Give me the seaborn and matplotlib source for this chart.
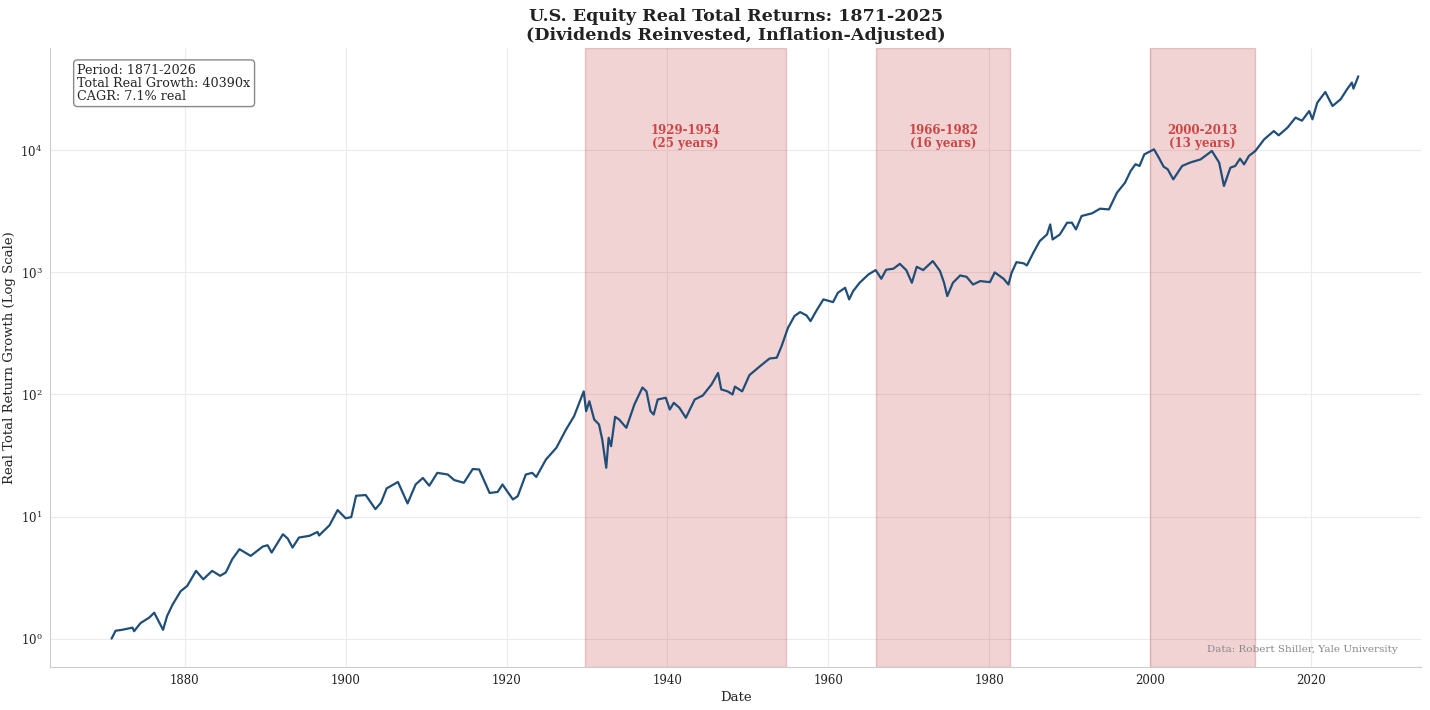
import numpy as np
import pandas as pd
import matplotlib
matplotlib.use("Agg")
import matplotlib.pyplot as plt
import seaborn as sns

# values (growth of $1, real, log scale)
years = [
    1870.9, 1871.4, 1872.2, 1873.5, 1873.7, 1874.5, 1875.6, 1876.2, 1877.3, 1877.8,
    1878.5, 1879.5, 1880.3, 1881.4, 1882.3, 1883.4, 1884.4, 1885.1, 1885.9, 1886.8,
    1888.2, 1889.7, 1890.3, 1890.8, 1892.2, 1892.8, 1893.4, 1894.2, 1895.5, 1896.5,
    1896.7, 1898.0, 1899.0, 1900.0, 1900.7, 1901.3, 1902.5, 1903.7, 1904.4, 1905.1,
    1906.5, 1907.7, 1908.7, 1909.6, 1910.4, 1911.4, 1912.7, 1913.5, 1914.7, 1915.8,
    1916.6, 1917.9, 1918.9, 1919.5, 1920.8, 1921.4, 1922.4, 1923.2, 1923.7, 1924.9,
    1926.2, 1927.4, 1928.4, 1929.6, 1929.9, 1930.3, 1930.9, 1931.5, 1931.9, 1932.4,
    1932.7, 1933.0, 1933.5, 1934.0, 1934.9, 1935.9, 1936.9, 1937.4, 1937.9, 1938.3,
    1938.8, 1939.8, 1940.3, 1940.8, 1941.5, 1942.3, 1943.4, 1944.4, 1945.5, 1946.3,
    1946.7, 1947.5, 1948.1, 1948.4, 1949.3, 1950.2, 1951.5, 1952.7, 1953.6, 1954.2,
    1955.0, 1955.8, 1956.5, 1957.3, 1957.8, 1958.5, 1959.4, 1960.6, 1961.2, 1962.1,
    1962.6, 1963.1, 1963.9, 1965.0, 1965.9, 1966.6, 1967.2, 1968.1, 1968.9, 1969.7,
    1970.4, 1971.0, 1971.8, 1973.0, 1973.9, 1974.4, 1974.8, 1975.5, 1976.4, 1977.2,
    1978.0, 1978.9, 1980.1, 1980.7, 1981.8, 1982.4, 1982.8, 1983.4, 1984.3, 1984.7,
    1985.5, 1986.3, 1987.2, 1987.6, 1987.9, 1988.8, 1989.7, 1990.3, 1990.8, 1991.5,
    1992.8, 1993.8, 1994.9, 1995.9, 1996.9, 1997.6, 1998.2, 1998.7, 1999.3, 2000.5,
    2001.1, 2001.7, 2002.2, 2002.9, 2004.0, 2005.0, 2006.3, 2007.7, 2008.6, 2009.2,
    2010.0, 2010.6, 2011.2, 2011.7, 2012.3, 2013.1, 2014.2, 2015.4, 2016.0, 2017.1,
    2018.1, 2018.9, 2019.8, 2020.2, 2020.8, 2021.8, 2022.7, 2023.7, 2024.5, 2025.1,
    2025.3, 2025.9,
]
growth = [
    1.00, 1.16, 1.18, 1.23, 1.15, 1.34, 1.49, 1.63, 1.18, 1.53,
    1.91, 2.45, 2.70, 3.59, 3.06, 3.59, 3.27, 3.48, 4.47, 5.40,
    4.76, 5.68, 5.82, 5.07, 7.16, 6.60, 5.57, 6.73, 6.95, 7.48,
    7.00, 8.49, 11.3, 9.68, 9.90, 14.8, 15.0, 11.5, 13.0, 17.0,
    19.2, 12.8, 18.3, 20.7, 17.9, 22.8, 22.1, 19.9, 18.9, 24.5,
    24.3, 15.6, 15.9, 18.3, 13.8, 14.7, 22.1, 22.8, 21.1, 29.3,
    36.6, 51.6, 66.4, 106, 73.0, 88.0, 62.4, 56.8, 42.8, 25.1,
    44.2, 37.7, 65.6, 62.4, 53.3, 82.8, 114, 106, 73.0, 68.5,
    91.0, 94.0, 75.3, 85.5, 77.8, 64.4, 91.0, 98.0, 121, 150,
    110, 106, 100, 116, 106, 144, 170, 197, 200, 249,
    352, 439, 473, 444, 399, 482, 601, 571, 681, 748,
    601, 703, 822, 962, 1045, 887, 1052, 1072, 1175, 1045,
    822, 1112, 1045, 1239, 1026, 822, 640, 822, 944, 920,
    796, 849, 832, 1000, 887, 796, 993, 1213, 1186, 1140,
    1449, 1807, 2046, 2472, 1862, 2046, 2553, 2553, 2249, 2897,
    3048, 3327, 3281, 4498, 5433, 6776, 7691, 7447, 9268, 10190,
    8710, 7345, 7000, 5781, 7447, 7943, 8433, 9886, 7943, 5105,
    7211, 7447, 8551, 7674, 8995, 9886, 12300, 14390, 13270, 15350,
    18530, 17500, 20990, 17950, 24550, 30060, 23070, 26180, 31620, 35890,
    32060, 40390,
]

# long stagnation periods (start, end, label)
span_starts = [1929.7, 1966.0, 2000.0]
span_ends = [1954.8, 1982.6, 2013.1]
span_labels = ["1929-1954\n(25 years)", "1966-1982\n(16 years)", "2000-2013\n(13 years)"]

df = pd.DataFrame({"year": years, "growth": growth})

sns.set_style("whitegrid")
plt.rcParams["font.family"] = ["DejaVu Serif"]
plt.rcParams["mathtext.fontset"] = "dejavuserif"

fig, ax = plt.subplots(figsize=(14.3, 7.1), dpi=100)
fig.subplots_adjust(left=0.035, right=0.994, bottom=0.061, top=0.932)

for s, e, lab in zip(span_starts, span_ends, span_labels):
    ax.axvspan(s, e, facecolor="#c8393d", alpha=0.22, edgecolor="#b02020", linewidth=1.0, zorder=1)
    ax.text((s + e) / 2, 1e4, lab, ha="center", va="bottom", fontsize=8.5,
            fontweight="bold", color="#cc4444", linespacing=1.0, zorder=3)

sns.lineplot(data=df, x="year", y="growth", ax=ax, color="#1f4e79", linewidth=1.6, zorder=2)
ax.set_yscale("log")
ax.set_xlim(1863.25, 2033.75)
ax.set_ylim(10 ** -0.23, 10 ** 4.836)
ax.set_xticks([1880, 1900, 1920, 1940, 1960, 1980, 2000, 2020])
ax.tick_params(labelsize=8.5, colors="#222222", pad=2)
ax.grid(True, color="#ebebeb", linewidth=0.8)

ax.set_title("U.S. Equity Real Total Returns: 1871-2025\n(Dividends Reinvested, Inflation-Adjusted)",
             fontsize=12.6, fontweight="bold", color="#222222", pad=6, linespacing=1.12)
ax.set_xlabel("Date", fontsize=9.5, labelpad=3)
ax.set_ylabel("Real Total Return Growth (Log Scale)", fontsize=9.5, labelpad=3)

ax.text(0.02, 0.975, "Period: 1871-2026\nTotal Real Growth: 40390x\nCAGR: 7.1% real",
        transform=ax.transAxes, va="top", ha="left", fontsize=9.2, linespacing=1.0,
        bbox=dict(boxstyle="round,pad=0.3", facecolor="white", edgecolor="#888888"))
ax.text(0.983, 0.02, "Data: Robert Shiller, Yale University", transform=ax.transAxes,
        ha="right", va="bottom", fontsize=7.5, color="#888888")

sns.despine(ax=ax)
for sp in ["left", "bottom"]:
    ax.spines[sp].set_color("#cccccc")

fig.savefig("out.png", dpi=100)
